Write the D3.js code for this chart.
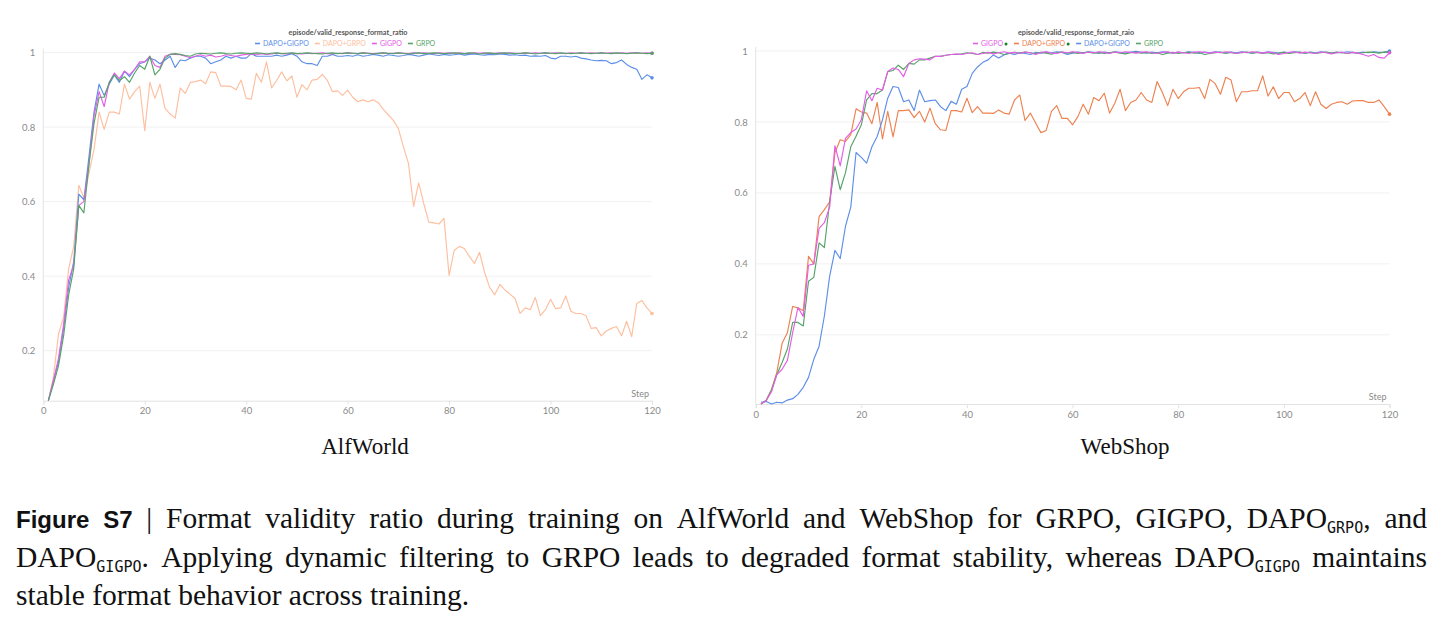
<!DOCTYPE html>
<html>
<head>
<meta charset="utf-8">
<script src="https://cdn.jsdelivr.net/npm/d3@7"></script>
<style>
  html, body { margin: 0; padding: 0; background: #fff; }
  svg { display: block; }
</style>
</head>
<body>
<div id="chart"></div>
<script>
// ---- data (steps 1..120) ----
const steps = d3.range(1, 121);
const xTicks = [0, 20, 40, 60, 80, 100, 120];
const yTicks = [0.2, 0.4, 0.6, 0.8, 1];

// AlfWorld
const alfGRPO = [
  0.066,0.11,0.16,0.24,0.35,0.42,0.59,0.57,0.70,0.81,
  0.88,0.88,0.92,0.94,0.925,0.935,0.92,0.945,0.965,0.955,
  0.99,0.94,0.955,0.985,0.995,0.997,0.995,0.992,0.99,0.996,
  0.998,0.997,0.996,0.998,0.999,0.997,0.996,0.998,0.999,0.998,
  0.997,0.999,0.998,0.996,0.998,0.999,0.997,0.998,0.999,0.997,
  0.998,0.999,0.998,0.997,0.996,0.998,0.999,0.997,0.998,0.999,
  0.998,0.997,0.999,0.998,0.996,0.998,0.999,0.998,0.997,0.999,
  0.998,0.996,0.998,0.999,0.997,0.998,0.999,0.998,0.997,0.998,
  0.999,0.998,0.997,0.999,0.998,0.996,0.998,0.999,0.997,0.998,
  0.999,0.998,0.997,0.998,0.999,0.998,0.996,0.998,0.999,0.998,
  0.997,0.999,0.998,0.997,0.998,0.999,0.998,0.997,0.998,0.999,
  0.998,0.997,0.999,0.998,0.997,0.998,0.999,0.998,0.997,0.998
];
const alfGIGPO = [
  0.066,0.12,0.18,0.27,0.39,0.43,0.59,0.60,0.70,0.83,
  0.895,0.855,0.92,0.945,0.93,0.95,0.94,0.955,0.975,0.975,
  0.99,0.965,0.96,0.99,0.995,0.995,0.994,0.99,0.986,0.99,
  0.994,0.99,0.993,0.988,0.99,0.994,0.992,0.99,0.993,0.995,
  0.996,0.994,0.997,0.995,0.996,0.998,0.997,0.996,0.998,0.997,
  0.996,0.998,0.997,0.998,0.999,0.997,0.996,0.998,0.997,0.999,
  0.998,0.997,0.999,0.998,0.997,0.998,0.999,0.997,0.998,0.999,
  0.998,0.997,0.999,0.998,0.999,0.998,0.997,0.999,0.998,0.999,
  0.998,0.999,0.997,0.998,0.999,0.998,0.999,0.997,0.998,0.999,
  0.998,0.999,0.998,0.997,0.999,0.998,0.999,0.998,0.999,0.998,
  0.999,0.998,0.997,0.999,0.998,0.999,0.998,0.999,0.998,0.999,
  0.998,0.999,0.998,0.999,0.998,0.999,0.999,0.998,0.999,0.998
];
const alfDapoGRPO = [
  0.066,0.13,0.245,0.29,0.42,0.48,0.644,0.61,0.676,0.74,
  0.84,0.794,0.84,0.84,0.835,0.915,0.875,0.895,0.91,0.79,
  0.92,0.877,0.915,0.85,0.835,0.824,0.905,0.89,0.92,0.922,
  0.926,0.916,0.948,0.946,0.91,0.91,0.909,0.90,0.926,0.877,
  0.875,0.944,0.92,0.975,0.905,0.925,0.948,0.924,0.937,0.88,
  0.914,0.90,0.926,0.928,0.941,0.925,0.895,0.897,0.885,0.899,
  0.88,0.868,0.873,0.868,0.873,0.866,0.848,0.833,0.818,0.796,
  0.747,0.702,0.587,0.65,0.595,0.545,0.543,0.54,0.555,0.402,
  0.469,0.48,0.474,0.453,0.434,0.464,0.41,0.37,0.35,0.378,
  0.363,0.352,0.34,0.30,0.315,0.31,0.343,0.294,0.31,0.338,
  0.313,0.315,0.347,0.306,0.30,0.30,0.294,0.26,0.262,0.24,
  0.253,0.26,0.265,0.24,0.279,0.238,0.327,0.335,0.315,0.30
];
const alfDapoGIGPO = [
  0.066,0.12,0.17,0.26,0.37,0.44,0.62,0.605,0.72,0.84,
  0.915,0.885,0.915,0.94,0.92,0.95,0.935,0.955,0.97,0.975,
  0.985,0.98,0.97,0.98,0.99,0.96,0.98,0.978,0.985,0.99,
  0.99,0.985,0.97,0.975,0.98,0.99,0.985,0.99,0.985,0.985,
  0.997,0.99,0.99,0.99,0.99,0.993,0.99,0.993,0.997,0.99,
  0.975,0.97,0.97,0.965,0.99,0.99,0.995,0.99,0.99,0.992,
  0.99,0.994,0.99,0.992,0.995,0.993,0.99,0.994,0.992,0.99,
  0.992,0.995,0.993,0.99,0.993,0.996,0.994,0.992,0.995,0.993,
  0.994,0.996,0.993,0.995,0.996,0.994,0.993,0.995,0.994,0.996,
  0.995,0.993,0.994,0.992,0.993,0.99,0.991,0.99,0.992,0.985,
  0.983,0.99,0.99,0.988,0.99,0.985,0.983,0.98,0.978,0.979,
  0.978,0.97,0.973,0.98,0.968,0.96,0.955,0.928,0.94,0.932
];

// WebShop
const webGIGPO = [
  0.005,0.015,0.04,0.088,0.103,0.128,0.206,0.277,0.252,0.396,
  0.40,0.50,0.516,0.56,0.733,0.676,0.754,0.77,0.78,0.806,
  0.888,0.86,0.895,0.89,0.942,0.952,0.948,0.928,0.965,0.975,
  0.978,0.977,0.975,0.985,0.985,0.988,0.99,0.992,0.99,0.993,
  0.995,0.99,0.993,0.996,0.992,0.995,0.998,0.994,0.996,0.993,
  0.997,0.995,0.99,0.996,0.998,0.994,0.993,0.997,0.995,0.998,
  0.996,0.993,0.997,0.995,0.998,0.996,0.993,0.997,0.995,0.998,
  0.996,0.994,0.997,0.998,0.995,0.993,0.996,0.998,0.994,0.997,
  0.995,0.993,0.997,0.998,0.996,0.994,0.997,0.995,0.998,0.996,
  0.993,0.997,0.995,0.998,0.996,0.994,0.997,0.995,0.99,0.993,
  0.996,0.998,0.994,0.997,0.995,0.993,0.997,0.995,0.992,0.995,
  0.997,0.993,0.996,0.994,0.99,0.985,0.99,0.982,0.98,0.995
];
const webGRPO = [
  0.005,0.015,0.045,0.088,0.122,0.16,0.235,0.235,0.225,0.351,
  0.362,0.459,0.446,0.575,0.675,0.609,0.657,0.73,0.76,0.792,
  0.862,0.88,0.88,0.89,0.942,0.945,0.96,0.948,0.965,0.963,
  0.975,0.975,0.98,0.985,0.985,0.988,0.99,0.99,0.992,0.995,
  0.993,0.99,0.996,0.994,0.997,0.995,0.99,0.993,0.996,0.994,
  0.997,0.995,0.993,0.996,0.994,0.991,0.995,0.997,0.994,0.996,
  0.993,0.995,0.997,0.994,0.996,0.993,0.995,0.997,0.994,0.992,
  0.995,0.997,0.994,0.996,0.993,0.995,0.99,0.994,0.996,0.993,
  0.995,0.997,0.994,0.996,0.99,0.993,0.995,0.997,0.994,0.996,
  0.993,0.995,0.997,0.994,0.996,0.993,0.995,0.992,0.994,0.996,
  0.993,0.995,0.997,0.994,0.996,0.993,0.995,0.997,0.994,0.996,
  0.995,0.993,0.996,0.994,0.995,0.997,0.996,0.994,0.997,0.996
];
const webDapoGRPO = [
  0.005,0.016,0.046,0.094,0.176,0.206,0.28,0.276,0.268,0.421,
  0.40,0.533,0.553,0.575,0.713,0.75,0.745,0.764,0.837,0.828,
  0.825,0.795,0.855,0.752,0.83,0.758,0.832,0.832,0.834,0.812,
  0.83,0.80,0.839,0.795,0.778,0.776,0.832,0.832,0.828,0.867,
  0.826,0.843,0.825,0.825,0.824,0.834,0.825,0.822,0.862,0.876,
  0.804,0.825,0.797,0.77,0.776,0.83,0.846,0.81,0.81,0.792,
  0.815,0.85,0.822,0.869,0.86,0.881,0.825,0.853,0.892,0.832,
  0.855,0.862,0.883,0.862,0.855,0.914,0.883,0.846,0.892,0.866,
  0.885,0.895,0.895,0.897,0.866,0.92,0.908,0.878,0.926,0.918,
  0.857,0.885,0.885,0.888,0.888,0.93,0.873,0.899,0.866,0.883,
  0.883,0.857,0.866,0.883,0.846,0.885,0.85,0.838,0.85,0.855,
  0.857,0.85,0.859,0.86,0.86,0.855,0.855,0.862,0.843,0.822
];
const webDapoGIGPO = [
  0.01,0.012,0.005,0.01,0.008,0.016,0.02,0.032,0.052,0.08,
  0.131,0.168,0.253,0.365,0.438,0.415,0.506,0.56,0.714,0.70,
  0.684,0.73,0.759,0.806,0.867,0.9,0.897,0.857,0.862,0.832,
  0.89,0.857,0.86,0.862,0.843,0.832,0.858,0.85,0.892,0.9,
  0.937,0.955,0.968,0.975,0.989,0.98,0.989,0.994,0.99,0.995,
  0.993,0.99,0.996,0.994,0.997,0.995,0.998,0.996,0.99,0.994,
  0.997,0.995,0.998,0.996,0.993,0.997,0.995,0.998,0.996,0.994,
  0.997,0.999,0.996,0.994,0.997,0.995,0.998,0.996,0.994,0.997,
  0.995,0.998,0.996,0.993,0.997,0.995,0.998,0.996,0.994,0.997,
  0.995,0.998,0.996,0.994,0.997,0.995,0.998,0.996,0.994,0.997,
  0.995,0.998,0.996,0.994,0.997,0.995,0.998,0.996,0.994,0.997,
  0.995,0.998,0.996,0.994,0.997,0.995,0.998,0.996,0.997,1.0
];

const captionLines = [
  "**Figure** **S7** | Format validity ratio during training on AlfWorld and WebShop for GRPO, GIGPO, DAPO_{GRPO}, and",
  "DAPO_{GIGPO}. Applying dynamic filtering to GRPO leads to degraded format stability, whereas DAPO_{GIGPO} maintains",
  "stable format behavior across training."
];

// ---- style ----
const C = {
  blue: '#5d8fe8',
  orangeLight: '#fdbf9f',
  orange: '#ee8150',
  magenta: '#e35ee6',
  green: '#55a367',
  dot: '#12871f'
};
const chartFont = 'Lato, "Noto Sans", sans-serif';

const panels = [
  {
    title: 'episode/valid_response_format_ratio', subtitle: 'AlfWorld',
    x0: 43.3, x1: 652, yTop: 52.5, yBottom: 400.7, titleX: 348, legendX: 255, subX: 365,
    series: [
      { name: 'DAPO+GRPO', values: alfDapoGRPO, color: C.orangeLight },
      { name: 'DAPO+GIGPO', values: alfDapoGIGPO, color: C.blue },
      { name: 'GIGPO', values: alfGIGPO, color: C.magenta },
      { name: 'GRPO', values: alfGRPO, color: C.green }
    ],
    legend: [
      { name: 'DAPO+GIGPO', color: C.blue },
      { name: 'DAPO+GRPO', color: C.orangeLight },
      { name: 'GIGPO', color: C.magenta },
      { name: 'GRPO', color: C.green }
    ]
  },
  {
    title: 'episode/valid_response_format_raio', subtitle: 'WebShop',
    x0: 755.7, x1: 1389.5, yTop: 51, yBottom: 404, titleX: 1076, legendX: 973, subX: 1125,
    series: [
      { name: 'DAPO+GRPO', values: webDapoGRPO, color: C.orange },
      { name: 'DAPO+GIGPO', values: webDapoGIGPO, color: C.blue },
      { name: 'GRPO', values: webGRPO, color: C.green },
      { name: 'GIGPO', values: webGIGPO, color: C.magenta }
    ],
    legend: [
      { name: 'GIGPO', color: C.magenta, dot: true },
      { name: 'DAPO+GRPO', color: C.orange, dot: true },
      { name: 'DAPO+GIGPO', color: C.blue },
      { name: 'GRPO', color: C.green }
    ]
  }
];

const W = 1443, H = 628;
const svg = d3.select('#chart').append('svg')
  .attr('width', W).attr('height', H)
  .attr('viewBox', `0 0 ${W} ${H}`);
svg.append('rect').attr('width', W).attr('height', H).attr('fill', '#fff');

panels.forEach(drawPanel);
drawCaption();

function drawPanel(p) {
  const all = p.series.flatMap(s => s.values);
  const x = d3.scaleLinear().domain([0, 120]).range([p.x0, p.x1]);
  const y = d3.scaleLinear().domain([d3.min(all), 1]).range([p.yBottom, p.yTop]);
  const g = svg.append('g');

  // grid
  g.append('g').selectAll('line')
    .data(yTicks)
    .enter().append('line')
    .attr('x1', p.x0).attr('x2', p.x1)
    .attr('y1', d => y(d)).attr('y2', d => y(d))
    .attr('stroke', '#f1f1f1').attr('stroke-width', 1);

  // y axis
  const yAxis = g.append('g')
    .attr('transform', `translate(${p.x0},0)`)
    .call(d3.axisLeft(y).tickValues(yTicks).tickSize(0).tickPadding(8)
      .tickFormat(d => d === 1 ? '1' : d3.format('.1f')(d)));
  yAxis.select('.domain').attr('stroke', '#e3e3e3')
    .attr('d', `M0,${p.yTop - 4}V${p.yBottom}`);
  yAxis.selectAll('text').attr('fill', '#8a8a8a')
    .style('font-family', chartFont).style('font-size', '9.5px');

  // x axis
  const xAxis = g.append('g')
    .attr('transform', `translate(0,${p.yBottom})`)
    .call(d3.axisBottom(x).tickValues(xTicks).tickSize(4).tickPadding(3));
  xAxis.select('.domain').attr('stroke', '#e3e3e3');
  xAxis.selectAll('line').attr('stroke', '#e3e3e3');
  xAxis.selectAll('text').attr('fill', '#8a8a8a')
    .style('font-family', chartFont).style('font-size', '9.5px');

  g.append('text')
    .attr('x', p.x1 - 3).attr('y', p.yBottom - 4)
    .attr('text-anchor', 'end')
    .attr('fill', '#8a8a8a')
    .style('font-family', chartFont).style('font-size', '9px')
    .text('Step');

  // lines
  const line = d3.line()
    .x((d, i) => x(steps[i]))
    .y(d => y(d));
  p.series.forEach(s => {
    g.append('path')
      .datum(s.values)
      .attr('fill', 'none')
      .attr('stroke', s.color)
      .attr('stroke-width', 1.15)
      .attr('stroke-linejoin', 'round')
      .attr('d', line);
    g.append('circle')
      .attr('cx', x(steps[steps.length - 1]))
      .attr('cy', y(s.values[s.values.length - 1]))
      .attr('r', 1.8)
      .attr('fill', s.color);
  });

  // title
  g.append('text')
    .attr('x', p.titleX).attr('y', 35)
    .attr('text-anchor', 'middle')
    .attr('fill', '#555')
    .style('font-family', chartFont).style('font-size', '7.2px').style('font-weight', 700)
    .text(p.title);

  // legend
  let lx = p.legendX;
  p.legend.forEach(item => {
    g.append('line')
      .attr('x1', lx).attr('x2', lx + 5)
      .attr('y1', 43.5).attr('y2', 43.5)
      .attr('stroke', item.color).attr('stroke-width', 1.6);
    const t = g.append('text')
      .attr('x', lx + 8).attr('y', 46)
      .attr('fill', item.color)
      .style('font-family', chartFont).style('font-size', '7px')
      .text(item.name);
    lx += 8 + t.node().getComputedTextLength();
    if (item.dot) {
      g.append('circle')
        .attr('cx', lx + 3).attr('cy', 44).attr('r', 1.5)
        .attr('fill', C.dot);
      lx += 5;
    }
    lx += 6;
  });

  // subtitle
  svg.append('text')
    .attr('x', p.subX).attr('y', 454)
    .attr('text-anchor', 'middle')
    .attr('fill', '#111')
    .style('font-family', '"Liberation Serif", "Times New Roman", serif')
    .style('font-size', '23px')
    .text(p.subtitle);
}

function parseWord(w) {
  if (w.startsWith('**')) return [{ t: w.replace(/\*\*/g, ''), s: 'b' }];
  const runs = [];
  const re = /_\{([^}]*)\}/g;
  let last = 0, m;
  while ((m = re.exec(w))) {
    if (m.index > last) runs.push({ t: w.slice(last, m.index), s: 'r' });
    runs.push({ t: m[1], s: 'sub' });
    last = re.lastIndex;
  }
  if (last < w.length) runs.push({ t: w.slice(last), s: 'r' });
  return runs;
}

function drawCaption() {
  const left = 16, right = 1427;
  const baselines = [528, 567, 605];
  const fonts = {
    b: { family: '"Liberation Sans", Arial, sans-serif', size: 24, weight: 700 },
    r: { family: '"Liberation Serif", "Times New Roman", serif', size: 29.5, weight: 400 },
    sub: { family: '"DejaVu Sans Mono", "Liberation Mono", monospace', size: 15, weight: 400 }
  };
  const cap = svg.append('g').attr('fill', '#111');

  captionLines.forEach((ln, li) => {
    const words = ln.split(' ').map(parseWord);
    const nodes = words.map(runs => {
      const t = cap.append('text').attr('y', baselines[li]);
      let shifted = false;
      runs.forEach(r => {
        const f = fonts[r.s];
        const ts = t.append('tspan')
          .style('font-family', f.family)
          .style('font-size', f.size + 'px')
          .style('font-weight', f.weight)
          .text(r.t);
        if (r.s === 'sub' && !shifted) { ts.attr('dy', 5); shifted = true; }
        else if (r.s !== 'sub' && shifted) { ts.attr('dy', -5); shifted = false; }
      });
      return t;
    });
    const widths = nodes.map(n => n.node().getComputedTextLength());
    const total = d3.sum(widths);
    const justify = li < captionLines.length - 1;
    const gap = justify ? (right - left - total) / (nodes.length - 1) : 7.4;
    let cx = left;
    nodes.forEach((n, i) => {
      n.attr('x', cx);
      cx += widths[i] + gap;
    });
  });
}
</script>
</body>
</html>
